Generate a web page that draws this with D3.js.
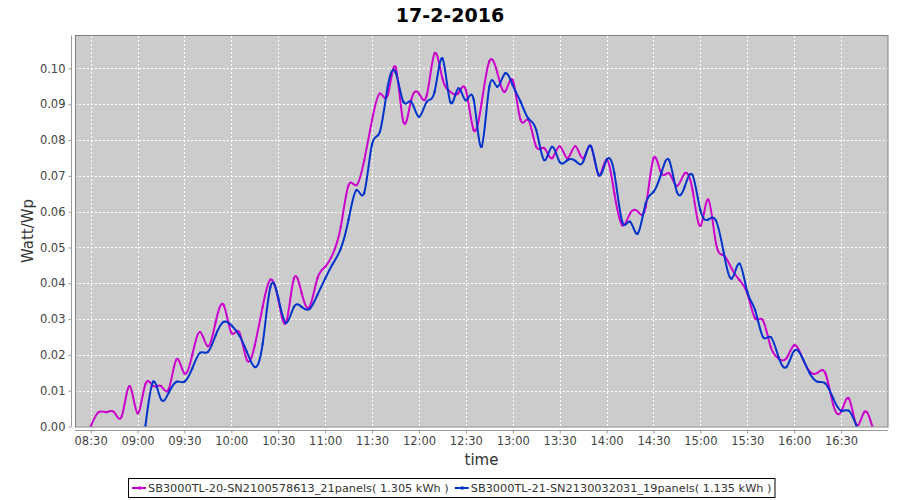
<!DOCTYPE html>
<html>
<head>
<meta charset="utf-8">
<script src="https://cdn.jsdelivr.net/npm/d3@7"></script>
<style>
  html, body { margin: 0; padding: 0; background: #ffffff; }
  svg { display: block; font-family: "DejaVu Sans", sans-serif; }
</style>
</head>
<body>
<svg id="chart" width="900" height="500"></svg>
<script>
// ---------- data ----------
const chartTitle = "17-2-2016";
const yLabel = "Watt/Wp";
const xLabel = "time";
const seriesNames = [
  "SB3000TL-20-SN2100578613_21panels( 1.305 kWh )",
  "SB3000TL-21-SN2130032031_19panels( 1.135 kWh )"
];
const seriesColors = ["#cc00cc", "#0033cc"];

// series 1: 08:30 .. 16:50, every 5 minutes
const start1 = "08:30";
const values1 = [
  0.000, 0.004, 0.004, 0.004, 0.003, 0.0113, 0.0037, 0.0118, 0.0113, 0.0113,
  0.0105, 0.0188, 0.0148, 0.0200, 0.0264, 0.0224, 0.0292, 0.0340, 0.0262, 0.0264,
  0.0185, 0.0227, 0.0334, 0.0410, 0.0355, 0.0290, 0.0413, 0.0372, 0.0334, 0.0413,
  0.0446, 0.0483, 0.0558, 0.0674, 0.0674, 0.0744, 0.0856, 0.0930, 0.0925, 0.1004,
  0.0851, 0.0911, 0.0930, 0.0925, 0.1042, 0.0972, 0.0935, 0.0930, 0.0940, 0.0828,
  0.0902, 0.1020, 0.0990, 0.0935, 0.0967, 0.0856, 0.0856, 0.0781, 0.0778, 0.0749,
  0.0783, 0.0749, 0.0783, 0.0749, 0.0783, 0.0702, 0.0746, 0.0651, 0.0562, 0.0595,
  0.0600, 0.0613, 0.0749, 0.0707, 0.0707, 0.0672, 0.0707, 0.0660, 0.0560, 0.0634,
  0.0511, 0.0478, 0.0441, 0.0409, 0.0372, 0.0302, 0.0297, 0.0222, 0.0190, 0.0190,
  0.0227, 0.0194, 0.0153, 0.0150, 0.0148, 0.0060, 0.0041, 0.0078, 0.0004, 0.0041,
  0.0000
];

// series 2: 09:05 .. 16:40, every 5 minutes
const start2 = "09:05";
const values2 = [
  0.0000, 0.0125, 0.0076, 0.0095, 0.0125, 0.0125, 0.0162, 0.0206, 0.0208, 0.0255,
  0.0292, 0.0283, 0.0255, 0.0208, 0.0166, 0.0230, 0.0390, 0.0360, 0.0289, 0.0334,
  0.0334, 0.0328, 0.0367, 0.0413, 0.0455, 0.0497, 0.0578, 0.0660, 0.0653, 0.0788,
  0.0823, 0.0949, 0.0990, 0.0907, 0.0907, 0.0865, 0.0907, 0.0935, 0.1028, 0.0907,
  0.0944, 0.0911, 0.0913, 0.0781, 0.0949, 0.0949, 0.0986, 0.0953, 0.0907, 0.0860,
  0.0828, 0.0744, 0.0781, 0.0739, 0.0744, 0.0742, 0.0739, 0.0783, 0.0702, 0.0744,
  0.0707, 0.0572, 0.0572, 0.0539, 0.0623, 0.0655, 0.0707, 0.0744, 0.0655, 0.0670,
  0.0702, 0.0604, 0.0578, 0.0575, 0.0484, 0.0413, 0.0455, 0.0376, 0.0325, 0.0250,
  0.0250, 0.0194, 0.0166, 0.0211, 0.0194, 0.0148, 0.0125, 0.0120, 0.0078, 0.0044,
  0.0044, 0.0000
];

const stepMinutes = 5;
const xDomain = ["08:20", "17:00"];
const xTickLabels = ["08:30", "09:00", "09:30", "10:00", "10:30", "11:00", "11:30", "12:00",
  "12:30", "13:00", "13:30", "14:00", "14:30", "15:00", "15:30", "16:00", "16:30"];
const yDomain = [0, 0.1092];
const yTickValues = [0.00, 0.01, 0.02, 0.03, 0.04, 0.05, 0.06, 0.07, 0.08, 0.09, 0.10];

// ---------- helpers ----------
const day = "2016-02-17";
const parse = d3.timeParse("%Y-%m-%d %H:%M");
const toDate = s => parse(day + " " + s);
function buildSeries(startStr, vals) {
  const t0 = toDate(startStr);
  return vals.map((v, i) => ({ t: d3.timeMinute.offset(t0, i * stepMinutes), v }));
}
const data = [buildSeries(start1, values1), buildSeries(start2, values2)];

// ---------- layout ----------
const plot = { left: 75, top: 35.5, right: 888, bottom: 426.5 };
const svg = d3.select("#chart");

const x = d3.scaleTime().domain(xDomain.map(toDate)).range([plot.left, plot.right]);
const y = d3.scaleLinear().domain(yDomain).range([plot.bottom, plot.top]);

// title
svg.append("text")
  .attr("x", 450).attr("y", 22)
  .attr("text-anchor", "middle")
  .attr("font-size", 19).attr("font-weight", "bold")
  .attr("fill", "#000")
  .text(chartTitle);

// plot background
svg.append("rect")
  .attr("x", plot.left).attr("y", plot.top)
  .attr("width", plot.right - plot.left).attr("height", plot.bottom - plot.top)
  .attr("fill", "#cccccc");

// gridlines
const xTicks = xTickLabels.map(toDate);
const grid = svg.append("g").attr("stroke", "#ffffff").attr("stroke-width", 1)
  .attr("stroke-dasharray", "2,2").attr("shape-rendering", "crispEdges");
grid.selectAll("line.v").data(xTicks).enter().append("line")
  .attr("x1", d => Math.round(x(d)) + 0.5).attr("x2", d => Math.round(x(d)) + 0.5)
  .attr("y1", plot.top).attr("y2", plot.bottom);
grid.selectAll("line.h").data(yTickValues).enter().append("line")
  .attr("y1", d => Math.round(y(d)) + 0.5).attr("y2", d => Math.round(y(d)) + 0.5)
  .attr("x1", plot.left).attr("x2", plot.right);

// clip
svg.append("clipPath").attr("id", "clip").append("rect")
  .attr("x", plot.left).attr("y", plot.top)
  .attr("width", plot.right - plot.left).attr("height", plot.bottom - plot.top);

// lines
const line = d3.line().x(d => x(d.t)).y(d => y(d.v)).curve(d3.curveNatural);
const lines = svg.append("g").attr("clip-path", "url(#clip)");
data.forEach((s, i) => {
  lines.append("path")
    .datum(s)
    .attr("fill", "none")
    .attr("stroke", seriesColors[i])
    .attr("stroke-width", 2)
    .attr("stroke-linejoin", "round")
    .attr("d", line);
  lines.selectAll("rect.m" + i).data(s).enter().append("rect")
    .attr("x", d => x(d.t) - 1).attr("y", d => y(d.v) - 1)
    .attr("width", 2).attr("height", 2)
    .attr("fill", seriesColors[i]);
});

// plot outline
svg.append("rect")
  .attr("x", plot.left + 0.5).attr("y", plot.top)
  .attr("width", plot.right - plot.left - 0.5).attr("height", plot.bottom - plot.top + 0.5)
  .attr("fill", "none").attr("stroke", "#808080").attr("stroke-width", 1);

// axes
const axisColor = "#999999";
const labelColor = "#444444";
const yAxis = d3.axisLeft(y).tickValues(yTickValues).tickFormat(d3.format(".2f"))
  .tickSizeInner(3).tickSizeOuter(0).tickPadding(3);
const gy = svg.append("g").attr("transform", "translate(71.5,0)").call(yAxis);
gy.select(".domain").attr("stroke", axisColor).attr("d", `M0,${plot.top}V${plot.bottom}`);
gy.selectAll(".tick line").attr("stroke", axisColor);
gy.selectAll(".tick text").attr("fill", labelColor).attr("font-size", 11.5)
  .attr("font-family", "DejaVu Sans, sans-serif");

const xAxis = d3.axisBottom(x).tickValues(xTicks).tickFormat(d3.timeFormat("%H:%M"))
  .tickSizeInner(3).tickSizeOuter(0).tickPadding(3);
const gx = svg.append("g").attr("transform", "translate(0,430.5)").call(xAxis);
gx.select(".domain").attr("stroke", axisColor).attr("d", `M${plot.left},0H${plot.right}`);
gx.selectAll(".tick line").attr("stroke", axisColor);
gx.selectAll(".tick text").attr("fill", labelColor).attr("font-size", 11.5)
  .attr("font-family", "DejaVu Sans, sans-serif");

// axis labels
svg.append("text")
  .attr("transform", `translate(33,${(plot.top + plot.bottom) / 2}) rotate(-90)`)
  .attr("text-anchor", "middle")
  .attr("font-size", 15).attr("fill", "#333333")
  .text(yLabel);
svg.append("text")
  .attr("x", (plot.left + plot.right) / 2).attr("y", 465)
  .attr("text-anchor", "middle")
  .attr("font-size", 15).attr("fill", "#333333")
  .text(xLabel);

// legend
const legend = svg.append("g");
const legendBox = legend.append("rect")
  .attr("fill", "#ffffff").attr("stroke", "#000000").attr("stroke-width", 1);
let cx = 132;
const ly = 488;
seriesNames.forEach((name, i) => {
  legend.append("line")
    .attr("x1", cx).attr("x2", cx + 14).attr("y1", ly).attr("y2", ly)
    .attr("stroke", seriesColors[i]).attr("stroke-width", 2);
  legend.append("rect")
    .attr("x", cx + 6).attr("y", ly - 1.5).attr("width", 3).attr("height", 3)
    .attr("fill", seriesColors[i]);
  const t = legend.append("text")
    .attr("x", cx + 16).attr("y", ly + 4)
    .attr("font-size", 11.3).attr("fill", "#333333")
    .text(name);
  cx += 16 + t.node().getComputedTextLength() + 6;
});
legendBox.attr("x", 128.5).attr("y", 478.5).attr("width", cx - 128 - 3).attr("height", 19);
</script>
</body>
</html>
